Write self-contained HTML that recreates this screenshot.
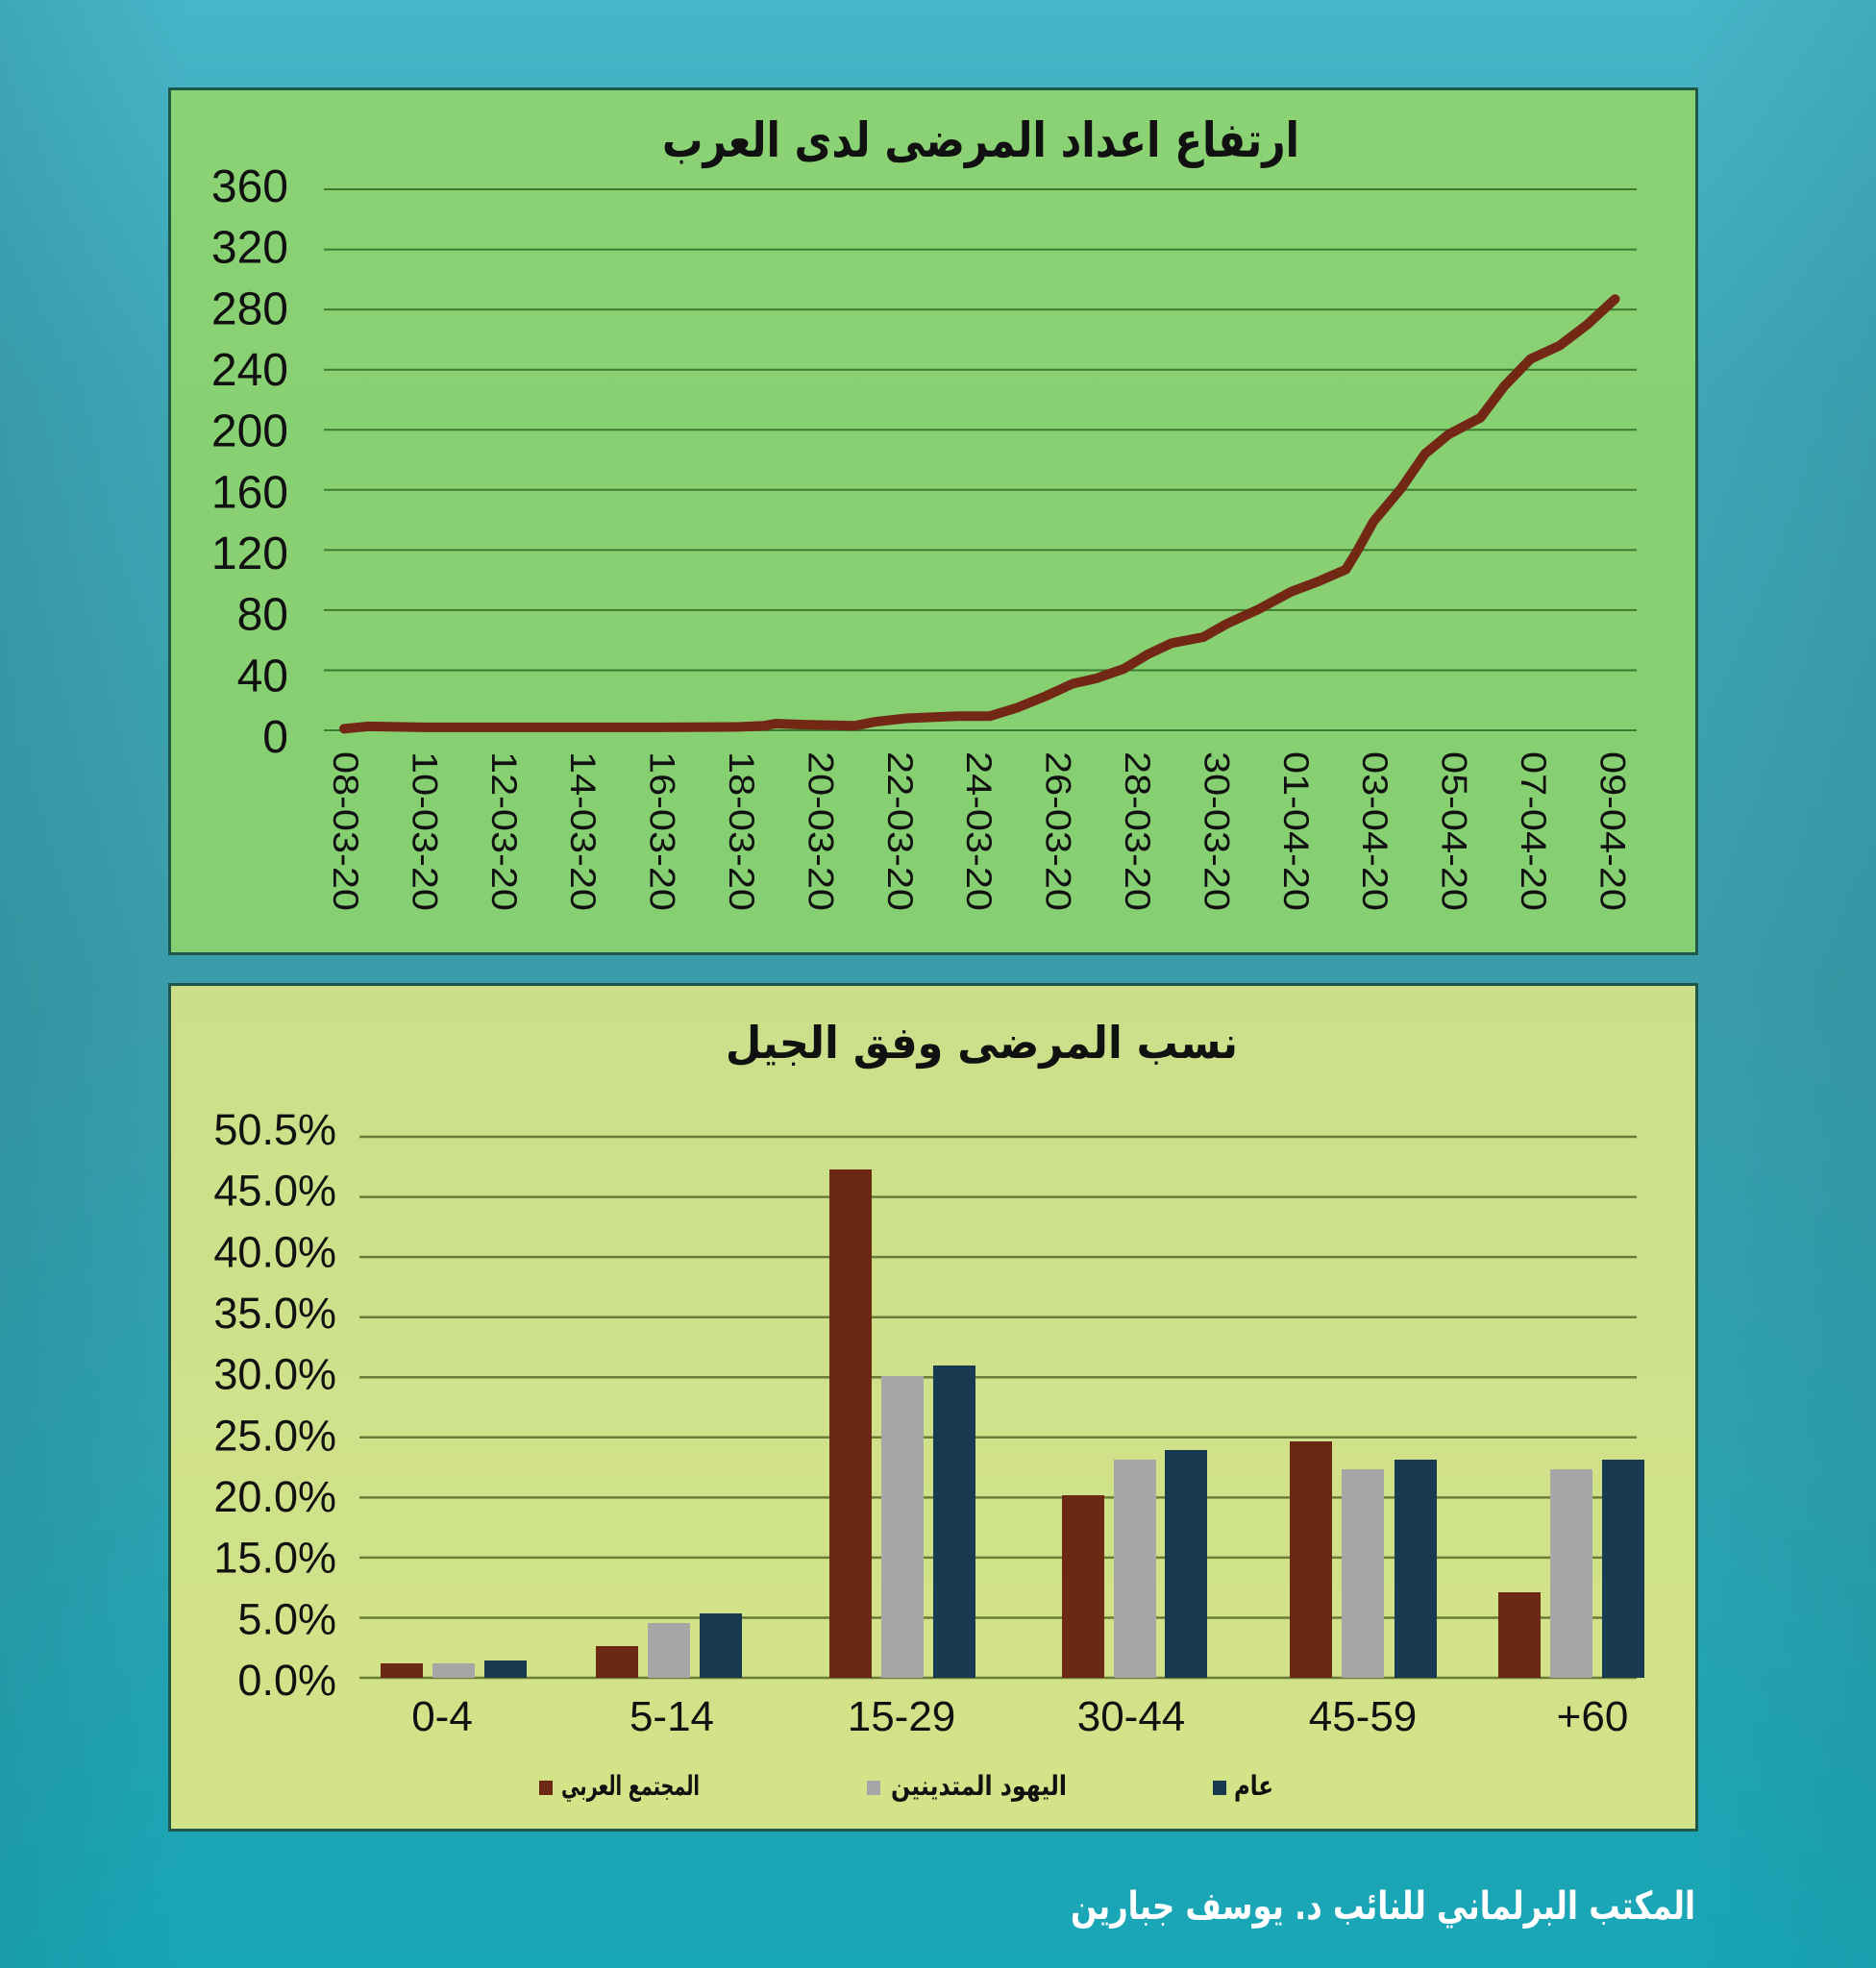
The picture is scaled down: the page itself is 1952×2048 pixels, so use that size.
<!DOCTYPE html>
<html>
<head>
<meta charset="utf-8">
<style>
html,body{margin:0;padding:0;}
body{width:1952px;height:2048px;overflow:hidden;}
svg{display:block;}
.ar{font-family:"DejaVu Sans",sans-serif;font-weight:bold;}
.lat{font-family:"Liberation Sans",sans-serif;}
</style>
</head>
<body>
<svg width="1952" height="2048" viewBox="0 0 1952 2048" xmlns="http://www.w3.org/2000/svg">
<defs>
<linearGradient id="bg" x1="0" y1="0" x2="0" y2="1">
<stop offset="0" stop-color="#46b6c8"/>
<stop offset="0.2" stop-color="#3ea6b6"/>
<stop offset="0.5" stop-color="#3a9daa"/>
<stop offset="0.75" stop-color="#2ca2b1"/>
<stop offset="1" stop-color="#17a6b6"/>
</linearGradient>
<linearGradient id="bgh" x1="0" y1="0" x2="1" y2="0">
<stop offset="0" stop-color="#1f6f7a" stop-opacity="0.2"/>
<stop offset="0.1" stop-color="#1f6f7a" stop-opacity="0"/>
<stop offset="0.9" stop-color="#1f6f7a" stop-opacity="0"/>
<stop offset="1" stop-color="#1f6f7a" stop-opacity="0.15"/>
</linearGradient>
<linearGradient id="g1" x1="0" y1="0" x2="0" y2="1">
<stop offset="0" stop-color="#8ad273"/>
<stop offset="1" stop-color="#86cf72"/>
</linearGradient>
<linearGradient id="g2" x1="0" y1="0" x2="0" y2="1">
<stop offset="0" stop-color="#cbdf8b"/>
<stop offset="1" stop-color="#d3e388"/>
</linearGradient>
</defs>
<rect x="0" y="0" width="1952" height="2048" fill="url(#bg)"/>
<rect x="0" y="0" width="1952" height="2048" fill="url(#bgh)"/>

<!-- Top panel -->
<rect x="176.5" y="92.5" width="1589" height="900" fill="url(#g1)" stroke="#1f5848" stroke-width="3"/>
<text class="ar" x="1020.5" y="163" font-size="50" text-anchor="middle" textLength="663" lengthAdjust="spacingAndGlyphs" fill="#111">ارتفاع اعداد المرضى لدى العرب</text>

<g stroke="#3d7a2f" stroke-width="2">
<line x1="337" y1="197" x2="1703" y2="197"/>
<line x1="337" y1="259.6" x2="1703" y2="259.6"/>
<line x1="337" y1="322.1" x2="1703" y2="322.1"/>
<line x1="337" y1="384.7" x2="1703" y2="384.7"/>
<line x1="337" y1="447.2" x2="1703" y2="447.2"/>
<line x1="337" y1="509.8" x2="1703" y2="509.8"/>
<line x1="337" y1="572.4" x2="1703" y2="572.4"/>
<line x1="337" y1="634.9" x2="1703" y2="634.9"/>
<line x1="337" y1="697.5" x2="1703" y2="697.5"/>
<line x1="337" y1="760" x2="1703" y2="760"/>
</g>
<g class="lat" font-size="48" fill="#111" text-anchor="end">
<text x="300" y="210">360</text>
<text x="300" y="273.7">320</text>
<text x="300" y="337.3">280</text>
<text x="300" y="401">240</text>
<text x="300" y="464.7">200</text>
<text x="300" y="528.3">160</text>
<text x="300" y="592">120</text>
<text x="300" y="655.7">80</text>
<text x="300" y="719.3">40</text>
<text x="300" y="783">0</text>
</g>
<g class="lat" font-size="37" fill="#111">
<text transform="translate(347,782) rotate(90)" textLength="166" lengthAdjust="spacingAndGlyphs">08-03-20</text>
<text transform="translate(429.4,782) rotate(90)" textLength="166" lengthAdjust="spacingAndGlyphs">10-03-20</text>
<text transform="translate(511.8,782) rotate(90)" textLength="166" lengthAdjust="spacingAndGlyphs">12-03-20</text>
<text transform="translate(594.2,782) rotate(90)" textLength="166" lengthAdjust="spacingAndGlyphs">14-03-20</text>
<text transform="translate(676.6,782) rotate(90)" textLength="166" lengthAdjust="spacingAndGlyphs">16-03-20</text>
<text transform="translate(759,782) rotate(90)" textLength="166" lengthAdjust="spacingAndGlyphs">18-03-20</text>
<text transform="translate(841.4,782) rotate(90)" textLength="166" lengthAdjust="spacingAndGlyphs">20-03-20</text>
<text transform="translate(923.8,782) rotate(90)" textLength="166" lengthAdjust="spacingAndGlyphs">22-03-20</text>
<text transform="translate(1006.2,782) rotate(90)" textLength="166" lengthAdjust="spacingAndGlyphs">24-03-20</text>
<text transform="translate(1088.6,782) rotate(90)" textLength="166" lengthAdjust="spacingAndGlyphs">26-03-20</text>
<text transform="translate(1171,782) rotate(90)" textLength="166" lengthAdjust="spacingAndGlyphs">28-03-20</text>
<text transform="translate(1253.4,782) rotate(90)" textLength="166" lengthAdjust="spacingAndGlyphs">30-03-20</text>
<text transform="translate(1335.8,782) rotate(90)" textLength="166" lengthAdjust="spacingAndGlyphs">01-04-20</text>
<text transform="translate(1418.2,782) rotate(90)" textLength="166" lengthAdjust="spacingAndGlyphs">03-04-20</text>
<text transform="translate(1500.6,782) rotate(90)" textLength="166" lengthAdjust="spacingAndGlyphs">05-04-20</text>
<text transform="translate(1583,782) rotate(90)" textLength="166" lengthAdjust="spacingAndGlyphs">07-04-20</text>
<text transform="translate(1665.4,782) rotate(90)" textLength="166" lengthAdjust="spacingAndGlyphs">09-04-20</text>
</g>
<polyline fill="none" stroke="#722815" stroke-width="10" stroke-linejoin="round" stroke-linecap="round"
points="358,758.4 382.7,755.9 440.4,756.9 522.8,756.9 605.2,756.9 687.6,756.9 770,756.4 794.7,755.3 807.1,753 835.9,754.1 889.5,755.3 910.1,751.2 943,747.5 996.6,745.3 1029.6,745.3 1058.4,736.5 1087.2,724.8 1116.1,711.5 1140.8,706 1169.6,695.9 1194.4,680.9 1219.1,669.3 1252,663 1276.8,649 1309.7,634 1342.7,616.1 1371.5,605.2 1400.4,592.7 1412.7,572.3 1429.2,542.6 1458,508.2 1482.8,472.2 1507.5,451.9 1540.4,434.7 1565.2,401.9 1592.4,373.7 1622.8,359.6 1651.7,337.7 1680.5,311.2"/>

<!-- Bottom panel -->
<rect x="176.5" y="1024.5" width="1589" height="880" fill="url(#g2)" stroke="#1f5848" stroke-width="3"/>
<text class="ar" x="1021.5" y="1101" font-size="46" text-anchor="middle" textLength="533" lengthAdjust="spacingAndGlyphs" fill="#111">نسب المرضى وفق الجيل</text>

<g stroke="#6c7c38" stroke-width="2.5">
<line x1="374" y1="1183" x2="1703" y2="1183"/>
<line x1="374" y1="1245.6" x2="1703" y2="1245.6"/>
<line x1="374" y1="1308.1" x2="1703" y2="1308.1"/>
<line x1="374" y1="1370.7" x2="1703" y2="1370.7"/>
<line x1="374" y1="1433.2" x2="1703" y2="1433.2"/>
<line x1="374" y1="1495.8" x2="1703" y2="1495.8"/>
<line x1="374" y1="1558.4" x2="1703" y2="1558.4"/>
<line x1="374" y1="1620.9" x2="1703" y2="1620.9"/>
<line x1="374" y1="1683.5" x2="1703" y2="1683.5"/>
<line x1="374" y1="1746" x2="1703" y2="1746"/>
</g>
<g class="lat" font-size="45" fill="#111" text-anchor="end">
<text x="350" y="1191">50.5%</text>
<text x="350" y="1254.7">45.0%</text>
<text x="350" y="1318.3">40.0%</text>
<text x="350" y="1382">35.0%</text>
<text x="350" y="1445.7">30.0%</text>
<text x="350" y="1509.3">25.0%</text>
<text x="350" y="1573">20.0%</text>
<text x="350" y="1636.7">15.0%</text>
<text x="350" y="1700.3">5.0%</text>
<text x="350" y="1764">0.0%</text>
</g>

<g>
<rect x="396" y="1731" width="44" height="15" fill="#6b2913"/>
<rect x="450" y="1731" width="44" height="15" fill="#a6a6a6"/>
<rect x="504" y="1728" width="44" height="18" fill="#173a51"/>
<rect x="620" y="1713" width="44" height="33" fill="#6b2913"/>
<rect x="674" y="1689" width="44" height="57" fill="#a6a6a6"/>
<rect x="728" y="1679" width="44" height="67" fill="#173a51"/>
<rect x="863" y="1217" width="44" height="529" fill="#6b2913"/>
<rect x="917" y="1432" width="44" height="314" fill="#a6a6a6"/>
<rect x="971" y="1421" width="44" height="325" fill="#173a51"/>
<rect x="1105" y="1556" width="44" height="190" fill="#6b2913"/>
<rect x="1159" y="1519" width="44" height="227" fill="#a6a6a6"/>
<rect x="1212" y="1509" width="44" height="237" fill="#173a51"/>
<rect x="1342" y="1500" width="44" height="246" fill="#6b2913"/>
<rect x="1396" y="1529" width="44" height="217" fill="#a6a6a6"/>
<rect x="1451" y="1519" width="44" height="227" fill="#173a51"/>
<rect x="1559" y="1657" width="44" height="89" fill="#6b2913"/>
<rect x="1613" y="1529" width="44" height="217" fill="#a6a6a6"/>
<rect x="1667" y="1519" width="44" height="227" fill="#173a51"/>
</g>

<g class="lat" font-size="44" fill="#111" text-anchor="middle">
<text x="460" y="1801">0-4</text>
<text x="699" y="1801">5-14</text>
<text x="938" y="1801">15-29</text>
<text x="1177" y="1801">30-44</text>
<text x="1418" y="1801">45-59</text>
<text x="1657" y="1801">+60</text>
</g>

<!-- Legend -->
<rect x="561" y="1853" width="14" height="15" fill="#6b2913"/>
<rect x="902" y="1853" width="14" height="15" fill="#a6a6a6"/>
<rect x="1262" y="1853" width="14" height="15" fill="#173a51"/>
<g class="ar" font-size="28" fill="#111" text-anchor="middle">
<text x="656" y="1868" textLength="144" lengthAdjust="spacingAndGlyphs">المجتمع العربي</text>
<text x="1018.5" y="1868" textLength="183" lengthAdjust="spacingAndGlyphs">اليهود المتدينين</text>
<text x="1304.5" y="1868" textLength="41" lengthAdjust="spacingAndGlyphs">عام</text>
</g>

<!-- Footer -->
<text class="ar" x="1439" y="1997" font-size="40" text-anchor="middle" textLength="650" lengthAdjust="spacingAndGlyphs" fill="#ffffff">المكتب البرلماني للنائب د. يوسف جبارين</text>
</svg>
</body>
</html>
